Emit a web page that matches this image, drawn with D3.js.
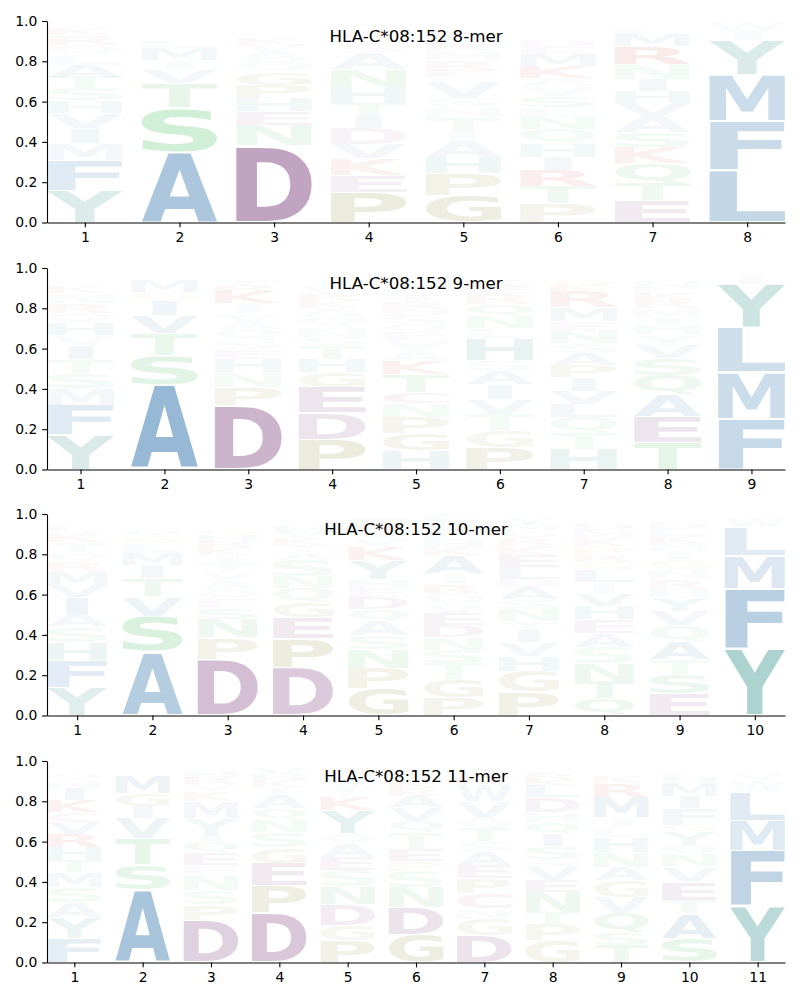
<!DOCTYPE html>
<html><head><meta charset="utf-8">
<script src="https://cdn.jsdelivr.net/npm/d3@7"></script>
<style>body{margin:0;background:#fff}</style>
</head><body>
<svg id="chart" width="800" height="1000"></svg>
<script>
const allele = "HLA-C*08:152";
const lengths = [8, 9, 10, 11];
const yTicks = [0, 0.2, 0.4, 0.6, 0.8, 1.0];

// each position: letters bottom -> top with their frequency
const mer8 = [
  [["Y",.16],["F",.15],["M",.082],["I",.074],["V",.074],["H",.063],["S",.061],["T",.058],["A",.058],["L",.05],["Q",.05],["R",.05],["K",.03],["E",.02],["W",.015]],
  [["A",.35],["S",.22],["T",.12],["V",.066],["I",.05],["M",.058],["L",.035],["G",.025],["Q",.02],["F",.015],["E",.015],["N",.01],["K",.01]],
  [["D",.38],["N",.1],["E",.07],["H",.066],["P",.066],["G",.063],["Q",.053],["A",.054],["V",.03],["K",.03],["S",.025],["T",.02],["R",.015],["Y",.015]],
  [["P",.15],["E",.083],["K",.083],["V",.074],["D",.079],["I",.058],["T",.066],["H",.078],["N",.09],["A",.083],["S",.035],["Q",.03],["R",.03],["G",.025],["Y",.024]],
  [["G",.136],["P",.106],["H",.079],["A",.08],["I",.053],["T",.07],["N",.05],["S",.04],["V",.08],["C",.025],["E",.03],["R",.055],["M",.05],["K",.03],["L",.03],["Q",.03],["D",.025],["Y",.02]],
  [["P",.094],["T",.087],["R",.078],["I",.066],["H",.066],["Q",.071],["N",.061],["L",.046],["S",.058],["V",.05],["A",.04],["K",.058],["M",.06],["E",.033],["D",.03],["G",.025],["F",.025],["C",.02],["Y",.02]],
  [["E",.107],["T",.087],["Q",.1],["K",.078],["S",.074],["A",.08],["V",.066],["H",.058],["I",.058],["N",.074],["R",.09],["M",.06],["L",.03],["F",.02],["G",.015]],
  [["L",.26],["F",.241],["M",.234],["Y",.168],["I",.051],["W",.036]]
];
const mer9 = [
  [["Y",.17],["F",.15],["M",.083],["S",.075],["T",.07],["I",.07],["V",.05],["H",.058],["Q",.05],["R",.05],["N",.05],["K",.03],["A",.025],["L",.025],["E",.02]],
  [["A",.42],["S",.145],["T",.11],["V",.09],["I",.075],["G",.04],["M",.06],["L",.02],["Q",.015],["F",.015],["E",.01]],
  [["D",.32],["P",.09],["N",.072],["H",.066],["E",.05],["S",.045],["Q",.055],["A",.035],["V",.04],["I",.05],["K",.058],["R",.03],["T",.03],["G",.025],["Y",.023]],
  [["P",.15],["D",.13],["E",.125],["G",.078],["H",.065],["T",.068],["S",.037],["N",.055],["Q",.05],["A",.042],["K",.033],["R",.035],["V",.03],["I",.03],["L",.025],["Y",.015],["M",.015]],
  [["H",.092],["G",.087],["P",.082],["N",.065],["C",.058],["T",.09],["K",.066],["A",.05],["V",.05],["E",.04],["Q",.04],["S",.04],["D",.035],["R",.035],["I",.03],["L",.03],["Y",.03],["M",.025],["F",.025],["W",.02]],
  [["P",.11],["G",.082],["T",.08],["V",.077],["I",.073],["A",.068],["S",.052],["H",.11],["L",.05],["N",.058],["Q",.06],["R",.055],["E",.03],["K",.03],["D",.025],["M",.025]],
  [["H",.1],["T",.08],["Q",.08],["L",.065],["V",.065],["I",.068],["P",.06],["A",.06],["S",.05],["N",.058],["E",.05],["M",.066],["R",.083],["K",.03],["G",.03],["F",.025],["Y",.023]],
  [["T",.135],["E",.128],["A",.107],["Q",.096],["S",.085],["V",.068],["Y",.05],["H",.045],["I",.035],["M",.05],["R",.04],["K",.03],["L",.03],["N",.03],["F",.026],["G",.02],["D",.02]],
  [["F",.25],["M",.232],["L",.222],["Y",.215],["I",.048],["W",.025]]
];
const mer10 = [
  [["Y",.14],["F",.133],["H",.09],["S",.08],["A",.06],["I",.082],["V",.06],["M",.068],["R",.052],["Q",.043],["T",.05],["K",.05],["L",.03],["N",.025],["E",.018],["G",.015]],
  [["A",.315],["S",.178],["V",.097],["T",.09],["I",.065],["M",.06],["L",.05],["G",.035],["Q",.03],["F",.025],["N",.02],["E",.021]],
  [["D",.28],["P",.105],["N",.093],["S",.058],["E",.042],["Q",.05],["A",.042],["V",.042],["T",.045],["I",.04],["K",.035],["R",.03],["H",.03],["G",.03],["Y",.025],["M",.02],["L",.02],["F",.014]],
  [["D",.235],["P",.145],["E",.103],["G",.077],["Q",.072],["N",.058],["S",.083],["A",.035],["T",.035],["K",.035],["V",.03],["H",.03],["R",.025],["I",.02],["L",.015]],
  [["G",.132],["P",.1],["N",.097],["S",.068],["A",.072],["Q",.058],["D",.058],["E",.042],["H",.05],["Y",.095],["K",.066],["V",.04],["I",.035],["R",.035],["T",.03],["M",.023]],
  [["P",.09],["G",.088],["T",.08],["S",.068],["N",.06],["D",.06],["E",.058],["V",.05],["Q",.05],["R",.05],["I",.05],["A",.09],["K",.04],["H",.035],["L",.035],["M",.03],["Y",.03],["F",.03]],
  [["P",.115],["G",.105],["H",.075],["V",.066],["I",.058],["T",.05],["N",.058],["S",.05],["A",.058],["D",.042],["L",.058],["E",.058],["K",.05],["R",.035],["Q",.035],["M",.03],["Y",.03],["F",.024]],
  [["Q",.085],["T",.085],["N",.088],["S",.082],["A",.068],["E",.068],["H",.068],["V",.063],["I",.055],["L",.058],["G",.043],["R",.035],["P",.04],["K",.04],["M",.04],["D",.03],["Y",.025],["F",.025]],
  [["E",.105],["S",.1],["T",.072],["A",.088],["Q",.08],["V",.072],["Y",.068],["H",.042],["R",.05],["N",.05],["G",.05],["I",.04],["M",.04],["K",.035],["L",.035],["D",.03],["F",.024]],
  [["Y",.33],["F",.3],["M",.165],["L",.14],["W",.05]]
];
const mer11 = [
  [["F",.12],["Y",.103],["A",.075],["S",.075],["M",.075],["T",.058],["H",.066],["R",.066],["V",.058],["C",.05],["K",.058],["I",.058],["N",.042],["Q",.03],["L",.025],["E",.023]],
  [["A",.36],["S",.125],["T",.13],["V",.1],["I",.06],["G",.065],["M",.09],["L",.025],["Q",.015],["F",.013]],
  [["D",.21],["P",.075],["S",.072],["N",.077],["F",.05],["E",.058],["Q",.058],["I",.033],["Y",.083],["M",.083],["K",.05],["V",.035],["R",.03],["H",.03],["T",.025],["W",.024]],
  [["D",.245],["P",.135],["E",.112],["G",.077],["S",.077],["N",.06],["Q",.06],["A",.068],["T",.035],["K",.03],["H",.03],["V",.03],["R",.028]],
  [["P",.108],["G",.078],["D",.1],["N",.088],["S",.082],["E",.065],["A",.068],["Q",.05],["Y",.117],["K",.068],["T",.04],["V",.035],["H",.03],["R",.03],["I",.025]],
  [["G",.138],["D",.135],["N",.1],["S",.082],["P",.045],["E",.062],["T",.083],["Q",.058],["V",.066],["A",.058],["R",.04],["K",.04],["I",.03],["L",.025],["Y",.018]],
  [["D",.135],["G",.082],["N",.05],["C",.075],["P",.075],["E",.066],["A",.066],["S",.05],["T",.066],["Q",.05],["V",.083],["W",.083],["R",.03],["K",.03],["I",.025],["M",.026]],
  [["G",.11],["P",.08],["T",.058],["N",.1],["E",.058],["V",.066],["A",.04],["S",.066],["I",.058],["Q",.058],["H",.05],["D",.075],["L",.058],["K",.03],["R",.03],["M",.026],["Y",.025]],
  [["T",.085],["S",.065],["Q",.095],["V",.078],["G",.083],["A",.066],["N",.075],["H",.075],["L",.05],["I",.05],["M",.1],["R",.066],["K",.03],["E",.025],["F",.025],["Y",.02]],
  [["S",.12],["A",.125],["T",.065],["E",.09],["V",.075],["N",.058],["Q",.05],["Y",.066],["G",.033],["F",.083],["I",.058],["M",.058],["H",.03],["L",.03],["R",.02],["K",.02]],
  [["Y",.28],["F",.275],["M",.15],["L",.145],["W",.055],["V",.03],["R",.025],["K",.023]]
];
const panels = [mer8, mer9, mer10, mer11];

// colour groups
const groupColor = {};
"AVLIMFW".split("").forEach(c => groupColor[c] = "rgb(70,130,180)");
"YH".split("").forEach(c => groupColor[c] = "rgb(60,150,145)");
"STNQ".split("").forEach(c => groupColor[c] = "rgb(80,190,100)");
"GP".split("").forEach(c => groupColor[c] = "rgb(140,140,60)");
"DE".split("").forEach(c => groupColor[c] = "rgb(130,70,130)");
"KR".split("").forEach(c => groupColor[c] = "rgb(200,40,40)");
groupColor["C"] = "rgb(190,60,110)";

const svg = d3.select("#chart");
const left = 47, right = 785;
const tops = [21, 268, 514, 761];
const plotH = 201.5;
const FONT = "DejaVu Sans";
const FS = 200;

// measure glyph ink boxes
const ctx = document.createElement("canvas").getContext("2d");
ctx.font = `bold ${FS}px '${FONT}'`;
const ink = {};
function measure(ch) {
  if (!ink[ch]) {
    const m = ctx.measureText(ch);
    ink[ch] = {l: m.actualBoundingBoxLeft, r: m.actualBoundingBoxRight, a: m.actualBoundingBoxAscent, d: m.actualBoundingBoxDescent};
  }
  return ink[ch];
}
const wE = (() => { const m = measure("E"); return m.l + m.r; })();
const alpha = d3.scalePow().exponent(1.15).domain([0, 0.7]).range([0, 1]).clamp(true);
const vpad = 0.05;

panels.forEach((data, pi) => {
  const n = lengths[pi];
  const top = tops[pi];
  const bottom = top + plotH;
  const x = d3.scaleLinear().domain([0.6, n + 0.4]).range([left, right]);
  const y = d3.scaleLinear().domain([0, 1]).range([bottom, top]);
  const g = svg.append("g");

  data.forEach((col, i) => {
    const pos = i + 1;
    let cum = 0;
    col.forEach(([ch, v]) => {
      const x0 = x(pos - 0.4), x1 = x(pos + 0.4);
      const w = x1 - x0;
      const yTop = y(cum + v), yBot = y(cum);
      const hBox = yBot - yTop;
      cum += v;
      const m = measure(ch);
      const iw = m.l + m.r, ih = m.a + m.d;
      const sx = Math.min(w / iw, w / wE);
      const hInk = hBox * (1 - vpad);
      const sy = hInk / ih;
      const gw = iw * sx;
      const tx = x0 + (w - gw) / 2 + m.l * sx;
      const ty = yTop + hBox * vpad / 2 + m.a * sy;
      g.append("text")
        .attr("x", 0).attr("y", 0)
        .attr("transform", `translate(${tx},${ty}) scale(${sx},${sy})`)
        .attr("font-family", FONT).attr("font-weight", "bold").attr("font-size", FS)
        .attr("fill", groupColor[ch]).attr("fill-opacity", alpha(v))
        .text(ch);
    });
  });

  const ax = svg.append("g");
  ax.append("g").attr("transform", `translate(0,${bottom})`)
    .call(d3.axisBottom(x).tickValues(d3.range(1, n + 1)).tickFormat(d3.format("d"))
      .tickSize(4.86).tickPadding(4.86).tickSizeOuter(0));
  ax.append("g").attr("transform", `translate(${left},0)`)
    .call(d3.axisLeft(y).tickValues(yTicks).tickFormat(d3.format(".1f"))
      .tickSize(4.86).tickPadding(4.86).tickSizeOuter(0));
  ax.selectAll("path,line").attr("stroke", "#000").attr("stroke-width", 1.1);
  ax.selectAll("text").attr("font-family", FONT).attr("font-size", "13.9px").attr("fill", "#000");

  svg.append("text")
    .attr("x", (left + right) / 2).attr("y", top + 21)
    .attr("text-anchor", "middle")
    .attr("font-family", FONT).attr("font-size", "16.67px").attr("fill", "#000")
    .text(`${allele} ${n}-mer`);
});
</script>
</body></html>
